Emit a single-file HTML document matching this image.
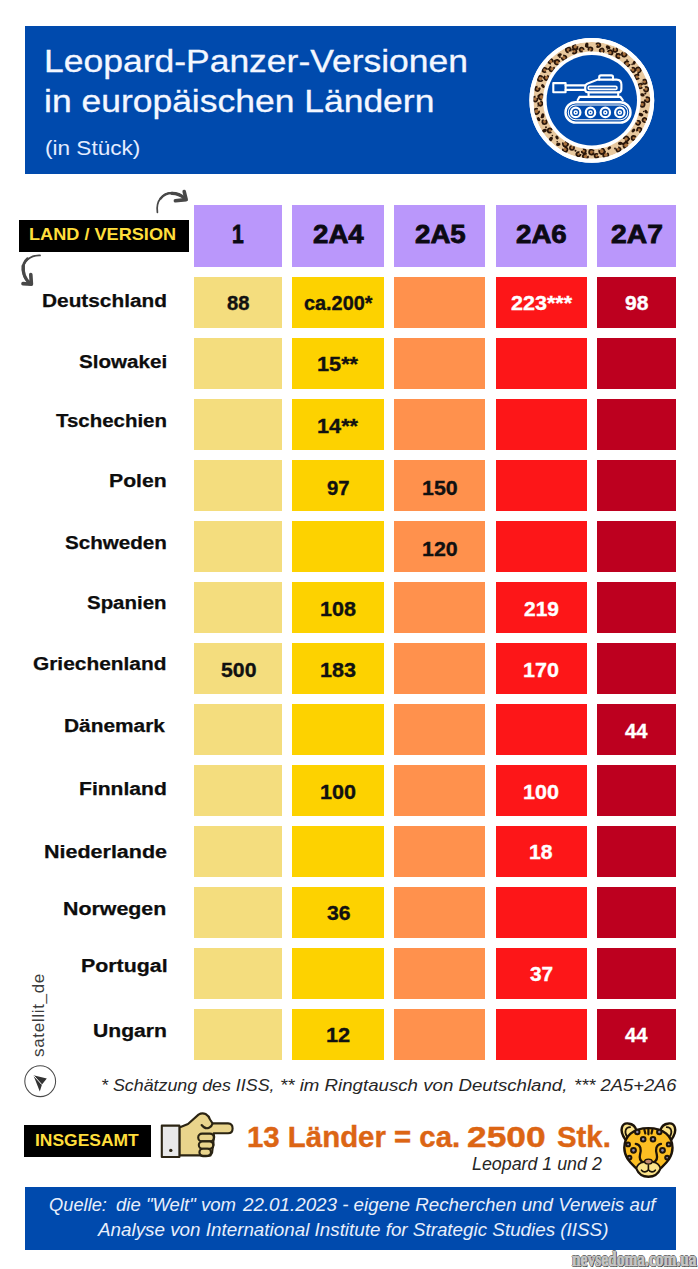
<!DOCTYPE html>
<html lang="de"><head><meta charset="utf-8"><title>Leopard-Panzer-Versionen in europäischen Ländern</title>
<style>
html,body{margin:0;padding:0;background:#fff;}
body{width:698px;height:1269px;position:relative;overflow:hidden;font-family:"Liberation Sans",sans-serif;}
.b{position:absolute;}
.t{position:absolute;line-height:1;white-space:nowrap;font-family:"Liberation Sans",sans-serif;}
.hd{-webkit-text-stroke:0.8px #0c0a14;}
.lb{-webkit-text-stroke:0.25px #0d0d0d;}
.v{-webkit-text-stroke:0.35px #111;}
.vw{-webkit-text-stroke:0.35px #fff;}
.ti{-webkit-text-stroke:0.3px #f4f7ff;}
.tot{-webkit-text-stroke:0.4px #dc6514;}
.wm{font-family:"Liberation Serif",serif;-webkit-text-stroke:0.7px #cbcbcb;text-shadow:1px 0 0 #555,-1px 0 0 #555,0 1px 0 #555,0 -1px 0 #555,1.2px 1.2px 0.5px #333;}
svg.ic{position:absolute;left:0;top:0;width:698px;height:1269px;pointer-events:none;}
</style></head><body>
<div class="b" style="left:25.00px;top:26.00px;width:651.00px;height:148.00px;background:#004aad;"></div>
<div class="t ti" id="t1" style="top:45.54px;font-size:31.5px;color:#f4f7ff;font-weight:400;left:43.75px;transform:scaleX(1.1261);transform-origin:0 50%;">Leopard-Panzer-Versionen</div>
<div class="t ti" id="t2" style="top:85.74px;font-size:31.5px;color:#f4f7ff;font-weight:400;left:43.75px;transform:scaleX(1.1257);transform-origin:0 50%;">in europäischen Ländern</div>
<div class="t " id="t3" style="top:138.37px;font-size:20px;color:#e4ecff;font-weight:400;left:44.87px;transform:scaleX(1.1292);transform-origin:0 50%;">(in Stück)</div>
<div class="b" style="left:19.30px;top:219.60px;width:169.40px;height:32.00px;background:#000;"></div>
<div class="t " id="t4" style="top:226.99px;font-size:16.9px;color:#ffde3b;font-weight:700;left:29.23px;transform:scaleX(1.0735);transform-origin:0 50%;">LAND / VERSION</div>
<div class="b" style="left:193.70px;top:205.00px;width:88.70px;height:61.60px;background:#ba97fb;"></div>
<div class="t hd" id="t5" style="top:222.00px;font-size:25.4px;color:#0c0a14;font-weight:700;left:231.82px;transform:scaleX(0.8308);transform-origin:0 50%;">1</div>
<div class="b" style="left:292.20px;top:205.00px;width:91.80px;height:61.60px;background:#ba97fb;"></div>
<div class="t hd" id="t6" style="top:222.00px;font-size:25.4px;color:#0c0a14;font-weight:700;left:312.80px;transform:scaleX(1.0892);transform-origin:0 50%;">2A4</div>
<div class="b" style="left:394.10px;top:205.00px;width:91.40px;height:61.60px;background:#ba97fb;"></div>
<div class="t hd" id="t7" style="top:222.00px;font-size:25.4px;color:#0c0a14;font-weight:700;left:414.50px;transform:scaleX(1.0892);transform-origin:0 50%;">2A5</div>
<div class="b" style="left:495.70px;top:205.00px;width:91.20px;height:61.60px;background:#ba97fb;"></div>
<div class="t hd" id="t8" style="top:222.00px;font-size:25.4px;color:#0c0a14;font-weight:700;left:516.00px;transform:scaleX(1.0892);transform-origin:0 50%;">2A6</div>
<div class="b" style="left:596.90px;top:205.00px;width:79.10px;height:61.60px;background:#ba97fb;"></div>
<div class="t hd" id="t9" style="top:222.00px;font-size:25.4px;color:#0c0a14;font-weight:700;left:611.15px;transform:scaleX(1.1131);transform-origin:0 50%;">2A7</div>
<div class="b" style="left:193.70px;top:277.10px;width:88.70px;height:50.60px;background:#f4dd7e;"></div>
<div class="b" style="left:292.20px;top:277.10px;width:91.80px;height:50.60px;background:#fdd200;"></div>
<div class="b" style="left:394.10px;top:277.10px;width:91.40px;height:50.60px;background:#ff914d;"></div>
<div class="b" style="left:495.70px;top:277.10px;width:91.20px;height:50.60px;background:#fd1618;"></div>
<div class="b" style="left:596.90px;top:277.10px;width:79.10px;height:50.60px;background:#bd001f;"></div>
<div class="b" style="left:193.70px;top:338.10px;width:88.70px;height:50.60px;background:#f4dd7e;"></div>
<div class="b" style="left:292.20px;top:338.10px;width:91.80px;height:50.60px;background:#fdd200;"></div>
<div class="b" style="left:394.10px;top:338.10px;width:91.40px;height:50.60px;background:#ff914d;"></div>
<div class="b" style="left:495.70px;top:338.10px;width:91.20px;height:50.60px;background:#fd1618;"></div>
<div class="b" style="left:596.90px;top:338.10px;width:79.10px;height:50.60px;background:#bd001f;"></div>
<div class="b" style="left:193.70px;top:399.10px;width:88.70px;height:50.60px;background:#f4dd7e;"></div>
<div class="b" style="left:292.20px;top:399.10px;width:91.80px;height:50.60px;background:#fdd200;"></div>
<div class="b" style="left:394.10px;top:399.10px;width:91.40px;height:50.60px;background:#ff914d;"></div>
<div class="b" style="left:495.70px;top:399.10px;width:91.20px;height:50.60px;background:#fd1618;"></div>
<div class="b" style="left:596.90px;top:399.10px;width:79.10px;height:50.60px;background:#bd001f;"></div>
<div class="b" style="left:193.70px;top:460.10px;width:88.70px;height:50.60px;background:#f4dd7e;"></div>
<div class="b" style="left:292.20px;top:460.10px;width:91.80px;height:50.60px;background:#fdd200;"></div>
<div class="b" style="left:394.10px;top:460.10px;width:91.40px;height:50.60px;background:#ff914d;"></div>
<div class="b" style="left:495.70px;top:460.10px;width:91.20px;height:50.60px;background:#fd1618;"></div>
<div class="b" style="left:596.90px;top:460.10px;width:79.10px;height:50.60px;background:#bd001f;"></div>
<div class="b" style="left:193.70px;top:521.10px;width:88.70px;height:50.60px;background:#f4dd7e;"></div>
<div class="b" style="left:292.20px;top:521.10px;width:91.80px;height:50.60px;background:#fdd200;"></div>
<div class="b" style="left:394.10px;top:521.10px;width:91.40px;height:50.60px;background:#ff914d;"></div>
<div class="b" style="left:495.70px;top:521.10px;width:91.20px;height:50.60px;background:#fd1618;"></div>
<div class="b" style="left:596.90px;top:521.10px;width:79.10px;height:50.60px;background:#bd001f;"></div>
<div class="b" style="left:193.70px;top:582.10px;width:88.70px;height:50.60px;background:#f4dd7e;"></div>
<div class="b" style="left:292.20px;top:582.10px;width:91.80px;height:50.60px;background:#fdd200;"></div>
<div class="b" style="left:394.10px;top:582.10px;width:91.40px;height:50.60px;background:#ff914d;"></div>
<div class="b" style="left:495.70px;top:582.10px;width:91.20px;height:50.60px;background:#fd1618;"></div>
<div class="b" style="left:596.90px;top:582.10px;width:79.10px;height:50.60px;background:#bd001f;"></div>
<div class="b" style="left:193.70px;top:643.10px;width:88.70px;height:50.60px;background:#f4dd7e;"></div>
<div class="b" style="left:292.20px;top:643.10px;width:91.80px;height:50.60px;background:#fdd200;"></div>
<div class="b" style="left:394.10px;top:643.10px;width:91.40px;height:50.60px;background:#ff914d;"></div>
<div class="b" style="left:495.70px;top:643.10px;width:91.20px;height:50.60px;background:#fd1618;"></div>
<div class="b" style="left:596.90px;top:643.10px;width:79.10px;height:50.60px;background:#bd001f;"></div>
<div class="b" style="left:193.70px;top:704.10px;width:88.70px;height:50.60px;background:#f4dd7e;"></div>
<div class="b" style="left:292.20px;top:704.10px;width:91.80px;height:50.60px;background:#fdd200;"></div>
<div class="b" style="left:394.10px;top:704.10px;width:91.40px;height:50.60px;background:#ff914d;"></div>
<div class="b" style="left:495.70px;top:704.10px;width:91.20px;height:50.60px;background:#fd1618;"></div>
<div class="b" style="left:596.90px;top:704.10px;width:79.10px;height:50.60px;background:#bd001f;"></div>
<div class="b" style="left:193.70px;top:765.10px;width:88.70px;height:50.60px;background:#f4dd7e;"></div>
<div class="b" style="left:292.20px;top:765.10px;width:91.80px;height:50.60px;background:#fdd200;"></div>
<div class="b" style="left:394.10px;top:765.10px;width:91.40px;height:50.60px;background:#ff914d;"></div>
<div class="b" style="left:495.70px;top:765.10px;width:91.20px;height:50.60px;background:#fd1618;"></div>
<div class="b" style="left:596.90px;top:765.10px;width:79.10px;height:50.60px;background:#bd001f;"></div>
<div class="b" style="left:193.70px;top:826.10px;width:88.70px;height:50.60px;background:#f4dd7e;"></div>
<div class="b" style="left:292.20px;top:826.10px;width:91.80px;height:50.60px;background:#fdd200;"></div>
<div class="b" style="left:394.10px;top:826.10px;width:91.40px;height:50.60px;background:#ff914d;"></div>
<div class="b" style="left:495.70px;top:826.10px;width:91.20px;height:50.60px;background:#fd1618;"></div>
<div class="b" style="left:596.90px;top:826.10px;width:79.10px;height:50.60px;background:#bd001f;"></div>
<div class="b" style="left:193.70px;top:887.10px;width:88.70px;height:50.60px;background:#f4dd7e;"></div>
<div class="b" style="left:292.20px;top:887.10px;width:91.80px;height:50.60px;background:#fdd200;"></div>
<div class="b" style="left:394.10px;top:887.10px;width:91.40px;height:50.60px;background:#ff914d;"></div>
<div class="b" style="left:495.70px;top:887.10px;width:91.20px;height:50.60px;background:#fd1618;"></div>
<div class="b" style="left:596.90px;top:887.10px;width:79.10px;height:50.60px;background:#bd001f;"></div>
<div class="b" style="left:193.70px;top:948.10px;width:88.70px;height:50.60px;background:#f4dd7e;"></div>
<div class="b" style="left:292.20px;top:948.10px;width:91.80px;height:50.60px;background:#fdd200;"></div>
<div class="b" style="left:394.10px;top:948.10px;width:91.40px;height:50.60px;background:#ff914d;"></div>
<div class="b" style="left:495.70px;top:948.10px;width:91.20px;height:50.60px;background:#fd1618;"></div>
<div class="b" style="left:596.90px;top:948.10px;width:79.10px;height:50.60px;background:#bd001f;"></div>
<div class="b" style="left:193.70px;top:1009.10px;width:88.70px;height:50.60px;background:#f4dd7e;"></div>
<div class="b" style="left:292.20px;top:1009.10px;width:91.80px;height:50.60px;background:#fdd200;"></div>
<div class="b" style="left:394.10px;top:1009.10px;width:91.40px;height:50.60px;background:#ff914d;"></div>
<div class="b" style="left:495.70px;top:1009.10px;width:91.20px;height:50.60px;background:#fd1618;"></div>
<div class="b" style="left:596.90px;top:1009.10px;width:79.10px;height:50.60px;background:#bd001f;"></div>
<div class="t lb" id="t10" style="top:292.40px;font-size:18.9px;color:#0d0d0d;font-weight:700;left:41.60px;transform:scaleX(1.1026);transform-origin:0 50%;">Deutschland</div>
<div class="t lb" id="t11" style="top:352.50px;font-size:18.9px;color:#0d0d0d;font-weight:700;left:79.10px;transform:scaleX(1.0917);transform-origin:0 50%;">Slowakei</div>
<div class="t lb" id="t12" style="top:411.80px;font-size:18.9px;color:#0d0d0d;font-weight:700;left:55.60px;transform:scaleX(1.0824);transform-origin:0 50%;">Tschechien</div>
<div class="t lb" id="t13" style="top:472.00px;font-size:18.9px;color:#0d0d0d;font-weight:700;left:108.88px;transform:scaleX(1.1224);transform-origin:0 50%;">Polen</div>
<div class="t lb" id="t14" style="top:533.60px;font-size:18.9px;color:#0d0d0d;font-weight:700;left:64.70px;transform:scaleX(1.0905);transform-origin:0 50%;">Schweden</div>
<div class="t lb" id="t15" style="top:593.90px;font-size:18.9px;color:#0d0d0d;font-weight:700;left:87.10px;transform:scaleX(1.0817);transform-origin:0 50%;">Spanien</div>
<div class="t lb" id="t16" style="top:654.70px;font-size:18.9px;color:#0d0d0d;font-weight:700;left:33.20px;transform:scaleX(1.1050);transform-origin:0 50%;">Griechenland</div>
<div class="t lb" id="t17" style="top:716.60px;font-size:18.9px;color:#0d0d0d;font-weight:700;left:64.49px;transform:scaleX(1.1051);transform-origin:0 50%;">Dänemark</div>
<div class="t lb" id="t18" style="top:779.90px;font-size:18.9px;color:#0d0d0d;font-weight:700;left:78.78px;transform:scaleX(1.1159);transform-origin:0 50%;">Finnland</div>
<div class="t lb" id="t19" style="top:842.50px;font-size:18.9px;color:#0d0d0d;font-weight:700;left:43.56px;transform:scaleX(1.1376);transform-origin:0 50%;">Niederlande</div>
<div class="t lb" id="t20" style="top:900.40px;font-size:18.9px;color:#0d0d0d;font-weight:700;left:63.37px;transform:scaleX(1.1306);transform-origin:0 50%;">Norwegen</div>
<div class="t lb" id="t21" style="top:957.20px;font-size:18.9px;color:#0d0d0d;font-weight:700;left:80.77px;transform:scaleX(1.1309);transform-origin:0 50%;">Portugal</div>
<div class="t lb" id="t22" style="top:1022.20px;font-size:18.9px;color:#0d0d0d;font-weight:700;left:92.58px;transform:scaleX(1.1196);transform-origin:0 50%;">Ungarn</div>
<div class="t v" id="t23" style="top:292.73px;font-size:20.4px;color:#111;font-weight:700;left:226.98px;transform:scaleX(0.9914);transform-origin:0 50%;">88</div>
<div class="t v" id="t24" style="top:292.73px;font-size:20.4px;color:#111;font-weight:700;left:303.84px;transform:scaleX(0.9737);transform-origin:0 50%;">ca.200*</div>
<div class="t vw" id="t25" style="top:293.03px;font-size:20.4px;color:#fff;font-weight:700;left:510.77px;transform:scaleX(1.0548);transform-origin:0 50%;">223***</div>
<div class="t vw" id="t26" style="top:293.03px;font-size:20.4px;color:#fff;font-weight:700;left:624.91px;transform:scaleX(1.0331);transform-origin:0 50%;">98</div>
<div class="t v" id="t27" style="top:353.83px;font-size:20.4px;color:#111;font-weight:700;left:317.01px;transform:scaleX(1.0648);transform-origin:0 50%;">15**</div>
<div class="t v" id="t28" style="top:416.13px;font-size:20.4px;color:#111;font-weight:700;left:317.01px;transform:scaleX(1.0648);transform-origin:0 50%;">14**</div>
<div class="t v" id="t29" style="top:477.63px;font-size:20.4px;color:#111;font-weight:700;left:326.97px;transform:scaleX(0.9961);transform-origin:0 50%;">97</div>
<div class="t v" id="t30" style="top:477.63px;font-size:20.4px;color:#111;font-weight:700;left:421.62px;transform:scaleX(1.0483);transform-origin:0 50%;">150</div>
<div class="t v" id="t31" style="top:538.63px;font-size:20.4px;color:#111;font-weight:700;left:421.62px;transform:scaleX(1.0483);transform-origin:0 50%;">120</div>
<div class="t v" id="t32" style="top:599.03px;font-size:20.4px;color:#111;font-weight:700;left:319.76px;transform:scaleX(1.0578);transform-origin:0 50%;">108</div>
<div class="t vw" id="t33" style="top:599.03px;font-size:20.4px;color:#fff;font-weight:700;left:524.02px;transform:scaleX(1.0264);transform-origin:0 50%;">219</div>
<div class="t v" id="t34" style="top:659.63px;font-size:20.4px;color:#111;font-weight:700;left:220.51px;transform:scaleX(1.0417);transform-origin:0 50%;">500</div>
<div class="t v" id="t35" style="top:659.63px;font-size:20.4px;color:#111;font-weight:700;left:319.76px;transform:scaleX(1.0578);transform-origin:0 50%;">183</div>
<div class="t vw" id="t36" style="top:659.63px;font-size:20.4px;color:#fff;font-weight:700;left:522.96px;transform:scaleX(1.0578);transform-origin:0 50%;">170</div>
<div class="t vw" id="t37" style="top:720.63px;font-size:20.4px;color:#fff;font-weight:700;left:624.91px;transform:scaleX(0.9889);transform-origin:0 50%;">44</div>
<div class="t v" id="t38" style="top:782.03px;font-size:20.4px;color:#111;font-weight:700;left:319.76px;transform:scaleX(1.0578);transform-origin:0 50%;">100</div>
<div class="t vw" id="t39" style="top:782.03px;font-size:20.4px;color:#fff;font-weight:700;left:522.96px;transform:scaleX(1.0578);transform-origin:0 50%;">100</div>
<div class="t vw" id="t40" style="top:842.43px;font-size:20.4px;color:#fff;font-weight:700;left:529.19px;transform:scaleX(1.0379);transform-origin:0 50%;">18</div>
<div class="t v" id="t41" style="top:902.63px;font-size:20.4px;color:#111;font-weight:700;left:326.51px;transform:scaleX(1.0378);transform-origin:0 50%;">36</div>
<div class="t vw" id="t42" style="top:963.63px;font-size:20.4px;color:#fff;font-weight:700;left:529.91px;transform:scaleX(1.0192);transform-origin:0 50%;">37</div>
<div class="t v" id="t43" style="top:1025.03px;font-size:20.4px;color:#111;font-weight:700;left:325.65px;transform:scaleX(1.0670);transform-origin:0 50%;">12</div>
<div class="t vw" id="t44" style="top:1025.03px;font-size:20.4px;color:#fff;font-weight:700;left:624.91px;transform:scaleX(0.9889);transform-origin:0 50%;">44</div>
<div class="t" id="sat" style="left:37.7px;top:1015.1px;font-size:17px;color:#3c3c3c;transform:translate(-50%,-50%) rotate(-90deg);letter-spacing:0.66px;">satellit_de</div>
<div class="t " id="t45" style="top:1077.16px;font-size:17.3px;color:#262626;font-weight:400;font-style:italic;left:100.97px;transform:scaleX(1.0320);transform-origin:0 50%;">* Schätzung des IISS,</div>
<div class="t " id="t46" style="top:1077.16px;font-size:17.3px;color:#262626;font-weight:400;font-style:italic;left:280.12px;transform:scaleX(1.0802);transform-origin:0 50%;">** im Ringtausch von Deutschland,</div>
<div class="t " id="t47" style="top:1077.16px;font-size:17.3px;color:#262626;font-weight:400;font-style:italic;left:574.44px;transform:scaleX(1.0620);transform-origin:0 50%;">*** 2A5+2A6</div>
<div class="b" style="left:24.20px;top:1125.20px;width:127.20px;height:31.40px;background:#000;"></div>
<div class="t " id="t48" style="top:1132.68px;font-size:16.8px;color:#ffde3b;font-weight:700;left:34.76px;transform:scaleX(1.0401);transform-origin:0 50%;">INSGESAMT</div>
<div class="t tot" id="t49" style="top:1123.42px;font-size:28.8px;color:#dc6514;font-weight:700;left:247.18px;transform:scaleX(1.0208);transform-origin:0 50%;">13 Länder = ca.</div>
<div class="t tot" id="t50" style="top:1123.42px;font-size:28.8px;color:#dc6514;font-weight:700;left:467.47px;transform:scaleX(1.2281);transform-origin:0 50%;">2500</div>
<div class="t tot" id="t51" style="top:1123.42px;font-size:28.8px;color:#dc6514;font-weight:700;left:557.40px;transform:scaleX(1.0191);transform-origin:0 50%;">Stk.</div>
<div class="t " id="t52" style="top:1154.96px;font-size:18px;color:#262626;font-weight:400;font-style:italic;left:472.40px;transform:scaleX(0.9900);transform-origin:0 50%;">Leopard 1 und 2</div>
<div class="b" style="left:25.00px;top:1186.50px;width:651.00px;height:63.00px;background:#004aad;"></div>
<div class="t " id="t53" style="top:1196.79px;font-size:17.5px;color:#e9effb;font-weight:400;font-style:italic;left:48.60px;transform:scaleX(1.0452);transform-origin:0 50%;">Quelle:</div>
<div class="t " id="t54" style="top:1196.79px;font-size:17.5px;color:#e9effb;font-weight:400;font-style:italic;left:116.30px;transform:scaleX(1.0589);transform-origin:0 50%;">die "Welt" vom</div>
<div class="t " id="t55" style="top:1196.79px;font-size:17.5px;color:#e9effb;font-weight:400;font-style:italic;left:242.67px;transform:scaleX(1.0726);transform-origin:0 50%;">22.01.2023 - eigene Recherchen und Verweis auf</div>
<div class="t " id="t56" style="top:1222.19px;font-size:17.5px;color:#e9effb;font-weight:400;font-style:italic;left:97.58px;transform:scaleX(1.0753);transform-origin:0 50%;">Analyse von International Institute for Strategic Studies (IISS)</div>
<div class="t wm" id="t57" style="top:1249.13px;font-size:20px;color:#c4c4c4;font-weight:700;left:572.00px;transform:scaleX(0.7734);transform-origin:0 50%;">nevsedoma.com.ua</div>
<svg class="ic" viewBox="0 0 698 1269">
<circle cx="591.8" cy="100.3" r="62.4" fill="#fff"/>
<circle cx="591.8" cy="100.3" r="58.4" fill="#e8c89e"/>
<circle cx="647.3" cy="99.6" r="1.96" fill="#a9713d"/>
<circle cx="647.3" cy="99.6" r="2.46" fill="none" stroke="#2a160a" stroke-width="1.7" stroke-dasharray="6.4 2.2" transform="rotate(26 647.3 99.6)"/>
<circle cx="642.3" cy="104.5" r="1.88" fill="#a9713d"/>
<circle cx="642.3" cy="104.5" r="2.36" fill="none" stroke="#2a160a" stroke-width="1.7" stroke-dasharray="6.1 2.1" transform="rotate(13 642.3 104.5)"/>
<circle cx="644.7" cy="100.9" r="0.87" fill="#2a160a"/>
<ellipse cx="646.1" cy="111.7" rx="2.05" ry="1.40" fill="#2a160a" transform="rotate(226 646.1 111.7)"/>
<ellipse cx="640.9" cy="114.6" rx="2.55" ry="1.74" fill="#2a160a" transform="rotate(17 640.9 114.6)"/>
<circle cx="643.6" cy="111.6" r="0.75" fill="#2a160a"/>
<circle cx="644.7" cy="120.0" r="1.70" fill="#a9713d"/>
<circle cx="644.7" cy="120.0" r="2.13" fill="none" stroke="#2a160a" stroke-width="1.7" stroke-dasharray="5.5 1.9" transform="rotate(209 644.7 120.0)"/>
<circle cx="638.0" cy="122.8" r="1.64" fill="#a9713d"/>
<circle cx="638.0" cy="122.8" r="2.04" fill="none" stroke="#2a160a" stroke-width="1.7" stroke-dasharray="5.3 1.8" transform="rotate(21 638.0 122.8)"/>
<circle cx="640.4" cy="122.6" r="0.83" fill="#2a160a"/>
<circle cx="639.2" cy="130.0" r="1.77" fill="#a9713d"/>
<circle cx="639.2" cy="130.0" r="2.21" fill="none" stroke="#2a160a" stroke-width="1.7" stroke-dasharray="5.7 2.0" transform="rotate(286 639.2 130.0)"/>
<ellipse cx="633.4" cy="130.5" rx="2.25" ry="1.54" fill="#2a160a" transform="rotate(315 633.4 130.5)"/>
<circle cx="637.2" cy="130.3" r="0.75" fill="#2a160a"/>
<circle cx="633.7" cy="138.0" r="1.69" fill="#a9713d"/>
<circle cx="633.7" cy="138.0" r="2.11" fill="none" stroke="#2a160a" stroke-width="1.7" stroke-dasharray="5.5 1.9" transform="rotate(176 633.7 138.0)"/>
<circle cx="626.2" cy="138.9" r="1.92" fill="#a9713d"/>
<circle cx="626.2" cy="138.9" r="2.40" fill="none" stroke="#2a160a" stroke-width="1.7" stroke-dasharray="6.2 2.2" transform="rotate(315 626.2 138.9)"/>
<circle cx="629.2" cy="138.9" r="0.93" fill="#2a160a"/>
<circle cx="626.0" cy="145.3" r="2.13" fill="#a9713d"/>
<circle cx="626.0" cy="145.3" r="2.66" fill="none" stroke="#2a160a" stroke-width="1.7" stroke-dasharray="6.9 2.4" transform="rotate(171 626.0 145.3)"/>
<ellipse cx="620.3" cy="143.3" rx="2.33" ry="1.59" fill="#2a160a" transform="rotate(358 620.3 143.3)"/>
<circle cx="622.7" cy="143.8" r="0.97" fill="#2a160a"/>
<circle cx="618.4" cy="149.5" r="1.69" fill="#a9713d"/>
<circle cx="618.4" cy="149.5" r="2.12" fill="none" stroke="#2a160a" stroke-width="1.7" stroke-dasharray="5.5 1.9" transform="rotate(42 618.4 149.5)"/>
<ellipse cx="609.3" cy="148.0" rx="2.06" ry="1.41" fill="#2a160a" transform="rotate(141 609.3 148.0)"/>
<circle cx="615.0" cy="148.5" r="0.92" fill="#2a160a"/>
<circle cx="605.8" cy="155.0" r="2.08" fill="#a9713d"/>
<circle cx="605.8" cy="155.0" r="2.60" fill="none" stroke="#2a160a" stroke-width="1.7" stroke-dasharray="6.8 2.3" transform="rotate(100 605.8 155.0)"/>
<circle cx="601.8" cy="151.2" r="2.14" fill="#a9713d"/>
<circle cx="601.8" cy="151.2" r="2.67" fill="none" stroke="#2a160a" stroke-width="1.7" stroke-dasharray="6.9 2.4" transform="rotate(54 601.8 151.2)"/>
<circle cx="605.1" cy="151.8" r="0.89" fill="#2a160a"/>
<circle cx="596.6" cy="155.8" r="1.60" fill="#a9713d"/>
<circle cx="596.6" cy="155.8" r="2.00" fill="none" stroke="#2a160a" stroke-width="1.7" stroke-dasharray="5.2 1.8" transform="rotate(151 596.6 155.8)"/>
<circle cx="591.6" cy="152.2" r="1.99" fill="#a9713d"/>
<circle cx="591.6" cy="152.2" r="2.48" fill="none" stroke="#2a160a" stroke-width="1.7" stroke-dasharray="6.5 2.2" transform="rotate(186 591.6 152.2)"/>
<circle cx="593.5" cy="153.2" r="1.06" fill="#2a160a"/>
<circle cx="585.5" cy="156.5" r="2.05" fill="#a9713d"/>
<circle cx="585.5" cy="156.5" r="2.56" fill="none" stroke="#2a160a" stroke-width="1.7" stroke-dasharray="6.7 2.3" transform="rotate(141 585.5 156.5)"/>
<circle cx="583.7" cy="151.2" r="1.63" fill="#a9713d"/>
<circle cx="583.7" cy="151.2" r="2.04" fill="none" stroke="#2a160a" stroke-width="1.7" stroke-dasharray="5.3 1.8" transform="rotate(24 583.7 151.2)"/>
<circle cx="585.9" cy="153.3" r="0.72" fill="#2a160a"/>
<circle cx="578.5" cy="154.2" r="1.66" fill="#a9713d"/>
<circle cx="578.5" cy="154.2" r="2.07" fill="none" stroke="#2a160a" stroke-width="1.7" stroke-dasharray="5.4 1.9" transform="rotate(131 578.5 154.2)"/>
<circle cx="572.0" cy="147.8" r="1.68" fill="#a9713d"/>
<circle cx="572.0" cy="147.8" r="2.10" fill="none" stroke="#2a160a" stroke-width="1.7" stroke-dasharray="5.5 1.9" transform="rotate(91 572.0 147.8)"/>
<circle cx="575.5" cy="150.7" r="1.04" fill="#2a160a"/>
<circle cx="565.1" cy="149.5" r="1.87" fill="#a9713d"/>
<circle cx="565.1" cy="149.5" r="2.34" fill="none" stroke="#2a160a" stroke-width="1.7" stroke-dasharray="6.1 2.1" transform="rotate(31 565.1 149.5)"/>
<circle cx="565.4" cy="143.9" r="2.06" fill="#a9713d"/>
<circle cx="565.4" cy="143.9" r="2.58" fill="none" stroke="#2a160a" stroke-width="1.7" stroke-dasharray="6.7 2.3" transform="rotate(58 565.4 143.9)"/>
<circle cx="564.0" cy="146.2" r="0.76" fill="#2a160a"/>
<ellipse cx="558.3" cy="144.4" rx="2.25" ry="1.54" fill="#2a160a" transform="rotate(352 558.3 144.4)"/>
<ellipse cx="557.0" cy="137.5" rx="2.14" ry="1.47" fill="#2a160a" transform="rotate(60 557.0 137.5)"/>
<circle cx="557.2" cy="141.8" r="0.83" fill="#2a160a"/>
<ellipse cx="550.8" cy="139.1" rx="2.55" ry="1.75" fill="#2a160a" transform="rotate(307 550.8 139.1)"/>
<circle cx="549.9" cy="130.5" r="1.73" fill="#a9713d"/>
<circle cx="549.9" cy="130.5" r="2.16" fill="none" stroke="#2a160a" stroke-width="1.7" stroke-dasharray="5.6 1.9" transform="rotate(186 549.9 130.5)"/>
<circle cx="552.4" cy="135.6" r="0.81" fill="#2a160a"/>
<ellipse cx="544.5" cy="130.7" rx="2.54" ry="1.74" fill="#2a160a" transform="rotate(161 544.5 130.7)"/>
<circle cx="544.5" cy="121.8" r="1.80" fill="#a9713d"/>
<circle cx="544.5" cy="121.8" r="2.26" fill="none" stroke="#2a160a" stroke-width="1.7" stroke-dasharray="5.9 2.0" transform="rotate(79 544.5 121.8)"/>
<circle cx="546.0" cy="127.3" r="0.95" fill="#2a160a"/>
<ellipse cx="538.6" cy="119.2" rx="2.22" ry="1.52" fill="#2a160a" transform="rotate(235 538.6 119.2)"/>
<ellipse cx="542.7" cy="115.8" rx="2.51" ry="1.71" fill="#2a160a" transform="rotate(282 542.7 115.8)"/>
<circle cx="541.5" cy="117.3" r="1.02" fill="#2a160a"/>
<circle cx="536.5" cy="111.3" r="2.14" fill="#a9713d"/>
<circle cx="536.5" cy="111.3" r="2.68" fill="none" stroke="#2a160a" stroke-width="1.7" stroke-dasharray="7.0 2.4" transform="rotate(143 536.5 111.3)"/>
<circle cx="540.3" cy="103.5" r="1.70" fill="#a9713d"/>
<circle cx="540.3" cy="103.5" r="2.12" fill="none" stroke="#2a160a" stroke-width="1.7" stroke-dasharray="5.5 1.9" transform="rotate(46 540.3 103.5)"/>
<circle cx="538.0" cy="106.0" r="0.76" fill="#2a160a"/>
<circle cx="535.1" cy="99.0" r="1.97" fill="#a9713d"/>
<circle cx="535.1" cy="99.0" r="2.46" fill="none" stroke="#2a160a" stroke-width="1.7" stroke-dasharray="6.4 2.2" transform="rotate(126 535.1 99.0)"/>
<circle cx="541.3" cy="96.9" r="2.14" fill="#a9713d"/>
<circle cx="541.3" cy="96.9" r="2.68" fill="none" stroke="#2a160a" stroke-width="1.7" stroke-dasharray="7.0 2.4" transform="rotate(234 541.3 96.9)"/>
<circle cx="538.5" cy="96.0" r="1.05" fill="#2a160a"/>
<circle cx="537.4" cy="88.8" r="1.74" fill="#a9713d"/>
<circle cx="537.4" cy="88.8" r="2.18" fill="none" stroke="#2a160a" stroke-width="1.7" stroke-dasharray="5.7 2.0" transform="rotate(105 537.4 88.8)"/>
<ellipse cx="542.9" cy="86.1" rx="2.18" ry="1.49" fill="#2a160a" transform="rotate(47 542.9 86.1)"/>
<circle cx="539.5" cy="88.7" r="0.93" fill="#2a160a"/>
<circle cx="540.3" cy="78.6" r="2.11" fill="#a9713d"/>
<circle cx="540.3" cy="78.6" r="2.64" fill="none" stroke="#2a160a" stroke-width="1.7" stroke-dasharray="6.9 2.4" transform="rotate(181 540.3 78.6)"/>
<circle cx="546.5" cy="77.7" r="1.85" fill="#a9713d"/>
<circle cx="546.5" cy="77.7" r="2.31" fill="none" stroke="#2a160a" stroke-width="1.7" stroke-dasharray="6.0 2.1" transform="rotate(66 546.5 77.7)"/>
<circle cx="543.8" cy="77.7" r="0.89" fill="#2a160a"/>
<circle cx="544.6" cy="70.0" r="1.78" fill="#a9713d"/>
<circle cx="544.6" cy="70.0" r="2.23" fill="none" stroke="#2a160a" stroke-width="1.7" stroke-dasharray="5.8 2.0" transform="rotate(187 544.6 70.0)"/>
<circle cx="551.9" cy="68.9" r="1.91" fill="#a9713d"/>
<circle cx="551.9" cy="68.9" r="2.39" fill="none" stroke="#2a160a" stroke-width="1.7" stroke-dasharray="6.2 2.2" transform="rotate(89 551.9 68.9)"/>
<circle cx="548.2" cy="69.0" r="0.92" fill="#2a160a"/>
<circle cx="550.7" cy="61.4" r="1.85" fill="#a9713d"/>
<circle cx="550.7" cy="61.4" r="2.31" fill="none" stroke="#2a160a" stroke-width="1.7" stroke-dasharray="6.0 2.1" transform="rotate(221 550.7 61.4)"/>
<circle cx="557.1" cy="62.2" r="1.85" fill="#a9713d"/>
<circle cx="557.1" cy="62.2" r="2.32" fill="none" stroke="#2a160a" stroke-width="1.7" stroke-dasharray="6.0 2.1" transform="rotate(192 557.1 62.2)"/>
<circle cx="555.0" cy="60.9" r="1.05" fill="#2a160a"/>
<ellipse cx="559.6" cy="54.9" rx="2.27" ry="1.55" fill="#2a160a" transform="rotate(340 559.6 54.9)"/>
<circle cx="564.0" cy="57.8" r="1.85" fill="#a9713d"/>
<circle cx="564.0" cy="57.8" r="2.31" fill="none" stroke="#2a160a" stroke-width="1.7" stroke-dasharray="6.0 2.1" transform="rotate(26 564.0 57.8)"/>
<circle cx="559.9" cy="56.9" r="1.01" fill="#2a160a"/>
<circle cx="568.4" cy="49.9" r="2.00" fill="#a9713d"/>
<circle cx="568.4" cy="49.9" r="2.50" fill="none" stroke="#2a160a" stroke-width="1.7" stroke-dasharray="6.5 2.3" transform="rotate(238 568.4 49.9)"/>
<circle cx="574.3" cy="51.4" r="1.72" fill="#a9713d"/>
<circle cx="574.3" cy="51.4" r="2.15" fill="none" stroke="#2a160a" stroke-width="1.7" stroke-dasharray="5.6 1.9" transform="rotate(343 574.3 51.4)"/>
<circle cx="569.8" cy="50.6" r="1.03" fill="#2a160a"/>
<circle cx="575.2" cy="46.9" r="1.89" fill="#a9713d"/>
<circle cx="575.2" cy="46.9" r="2.36" fill="none" stroke="#2a160a" stroke-width="1.7" stroke-dasharray="6.1 2.1" transform="rotate(122 575.2 46.9)"/>
<circle cx="581.7" cy="49.7" r="1.61" fill="#a9713d"/>
<circle cx="581.7" cy="49.7" r="2.01" fill="none" stroke="#2a160a" stroke-width="1.7" stroke-dasharray="5.2 1.8" transform="rotate(199 581.7 49.7)"/>
<circle cx="577.6" cy="48.9" r="0.95" fill="#2a160a"/>
<ellipse cx="586.7" cy="45.1" rx="2.56" ry="1.75" fill="#2a160a" transform="rotate(284 586.7 45.1)"/>
<circle cx="590.4" cy="49.3" r="1.62" fill="#a9713d"/>
<circle cx="590.4" cy="49.3" r="2.03" fill="none" stroke="#2a160a" stroke-width="1.7" stroke-dasharray="5.3 1.8" transform="rotate(280 590.4 49.3)"/>
<circle cx="587.7" cy="47.0" r="1.06" fill="#2a160a"/>
<circle cx="598.2" cy="45.0" r="1.68" fill="#a9713d"/>
<circle cx="598.2" cy="45.0" r="2.10" fill="none" stroke="#2a160a" stroke-width="1.7" stroke-dasharray="5.5 1.9" transform="rotate(331 598.2 45.0)"/>
<circle cx="601.8" cy="50.6" r="1.63" fill="#a9713d"/>
<circle cx="601.8" cy="50.6" r="2.04" fill="none" stroke="#2a160a" stroke-width="1.7" stroke-dasharray="5.3 1.8" transform="rotate(248 601.8 50.6)"/>
<circle cx="597.5" cy="46.3" r="0.95" fill="#2a160a"/>
<ellipse cx="608.1" cy="47.3" rx="2.47" ry="1.69" fill="#2a160a" transform="rotate(24 608.1 47.3)"/>
<circle cx="610.1" cy="52.6" r="1.91" fill="#a9713d"/>
<circle cx="610.1" cy="52.6" r="2.39" fill="none" stroke="#2a160a" stroke-width="1.7" stroke-dasharray="6.2 2.1" transform="rotate(334 610.1 52.6)"/>
<circle cx="607.3" cy="49.0" r="0.80" fill="#2a160a"/>
<circle cx="615.2" cy="49.9" r="1.63" fill="#a9713d"/>
<circle cx="615.2" cy="49.9" r="2.04" fill="none" stroke="#2a160a" stroke-width="1.7" stroke-dasharray="5.3 1.8" transform="rotate(73 615.2 49.9)"/>
<circle cx="618.4" cy="56.0" r="1.76" fill="#a9713d"/>
<circle cx="618.4" cy="56.0" r="2.20" fill="none" stroke="#2a160a" stroke-width="1.7" stroke-dasharray="5.7 2.0" transform="rotate(180 618.4 56.0)"/>
<circle cx="616.9" cy="53.8" r="0.80" fill="#2a160a"/>
<circle cx="624.2" cy="54.2" r="1.91" fill="#a9713d"/>
<circle cx="624.2" cy="54.2" r="2.39" fill="none" stroke="#2a160a" stroke-width="1.7" stroke-dasharray="6.2 2.1" transform="rotate(68 624.2 54.2)"/>
<circle cx="627.1" cy="63.9" r="2.06" fill="#a9713d"/>
<circle cx="627.1" cy="63.9" r="2.57" fill="none" stroke="#2a160a" stroke-width="1.7" stroke-dasharray="6.7 2.3" transform="rotate(156 627.1 63.9)"/>
<circle cx="627.0" cy="60.1" r="0.90" fill="#2a160a"/>
<ellipse cx="634.2" cy="62.7" rx="2.13" ry="1.46" fill="#2a160a" transform="rotate(300 634.2 62.7)"/>
<circle cx="632.9" cy="69.9" r="1.79" fill="#a9713d"/>
<circle cx="632.9" cy="69.9" r="2.24" fill="none" stroke="#2a160a" stroke-width="1.7" stroke-dasharray="5.8 2.0" transform="rotate(20 632.9 69.9)"/>
<circle cx="632.1" cy="64.4" r="0.80" fill="#2a160a"/>
<circle cx="638.2" cy="70.0" r="2.07" fill="#a9713d"/>
<circle cx="638.2" cy="70.0" r="2.59" fill="none" stroke="#2a160a" stroke-width="1.7" stroke-dasharray="6.7 2.3" transform="rotate(313 638.2 70.0)"/>
<circle cx="637.0" cy="76.9" r="1.76" fill="#a9713d"/>
<circle cx="637.0" cy="76.9" r="2.21" fill="none" stroke="#2a160a" stroke-width="1.7" stroke-dasharray="5.7 2.0" transform="rotate(165 637.0 76.9)"/>
<circle cx="638.2" cy="74.2" r="1.08" fill="#2a160a"/>
<circle cx="644.7" cy="81.8" r="1.74" fill="#a9713d"/>
<circle cx="644.7" cy="81.8" r="2.17" fill="none" stroke="#2a160a" stroke-width="1.7" stroke-dasharray="5.6 2.0" transform="rotate(348 644.7 81.8)"/>
<circle cx="640.3" cy="86.0" r="1.81" fill="#a9713d"/>
<circle cx="640.3" cy="86.0" r="2.27" fill="none" stroke="#2a160a" stroke-width="1.7" stroke-dasharray="5.9 2.0" transform="rotate(171 640.3 86.0)"/>
<circle cx="642.2" cy="82.1" r="0.70" fill="#2a160a"/>
<circle cx="646.1" cy="89.2" r="1.82" fill="#a9713d"/>
<circle cx="646.1" cy="89.2" r="2.28" fill="none" stroke="#2a160a" stroke-width="1.7" stroke-dasharray="5.9 2.1" transform="rotate(15 646.1 89.2)"/>
<ellipse cx="642.4" cy="94.9" rx="2.29" ry="1.57" fill="#2a160a" transform="rotate(191 642.4 94.9)"/>
<circle cx="645.3" cy="93.5" r="1.05" fill="#2a160a"/>
<circle cx="591.8" cy="100.3" r="53.6" fill="none" stroke="#fff" stroke-width="0"/>
<circle cx="591.8" cy="100.3" r="60.4" fill="none" stroke="#fff" stroke-width="4"/>
<circle cx="591.8" cy="100.3" r="48.8" fill="#fff"/>
<circle cx="591.8" cy="100.3" r="45.2" fill="#004aad"/>
<g fill="none" stroke="#fff" stroke-width="2.1" stroke-linejoin="round" stroke-linecap="round">
<rect x="553.3" y="83.1" width="12.3" height="9.1"/>
<path d="M565.6 85.4H585.2M565.6 89.9H585.2"/>
<path d="M599.2 79.6V77.2Q599.2 75.4 601 75.4H611.2Q613 75.4 613 77.2V79.6"/>
<path d="M588 92.4Q585.2 92.4 585.2 89.6V87.2Q585.2 84.6 587.8 83.6L597.6 79.6H616.6Q621.4 79.6 621.4 84.6V88.4Q621.4 92.4 618.4 92.4Z"/>
<rect x="588.2" y="86.4" width="28.8" height="3" rx="1.5" stroke-width="1.6"/>
<path d="M588.6 92.4V96.9H618.2V92.4"/>
<path d="M577.6 100.2L579.4 96.9H620.4L622.8 100.2"/>
<rect x="565.5" y="102.2" width="65" height="20.4" rx="10.2" stroke-width="2.4"/>
<rect x="568.3" y="105" width="59.4" height="14.8" rx="7.4" stroke-width="1.1"/>
</g>
<circle cx="575.7" cy="112.4" r="4.7" fill="#004aad" stroke="#fff" stroke-width="2.2"/><circle cx="575.7" cy="112.4" r="1.5" fill="none" stroke="#fff" stroke-width="1.5"/>
<circle cx="590.5" cy="112.4" r="4.7" fill="#004aad" stroke="#fff" stroke-width="2.2"/><circle cx="590.5" cy="112.4" r="1.5" fill="none" stroke="#fff" stroke-width="1.5"/>
<circle cx="605.3" cy="112.4" r="4.7" fill="#004aad" stroke="#fff" stroke-width="2.2"/><circle cx="605.3" cy="112.4" r="1.5" fill="none" stroke="#fff" stroke-width="1.5"/>
<circle cx="619.8" cy="112.4" r="4.7" fill="#004aad" stroke="#fff" stroke-width="2.2"/><circle cx="619.8" cy="112.4" r="1.5" fill="none" stroke="#fff" stroke-width="1.5"/>
<g fill="none" stroke="#484848" stroke-linecap="round" stroke-linejoin="round">
<path d="M157.4 212.4C155.6 200.5 163 192.8 172 192.8C178 192.8 182.6 195.4 185.6 198.6" stroke-width="1.7"/>
<path d="M160.6 198.6C163.4 194.8 167.6 193 172 193" stroke-width="2.4"/>
<path d="M184.2 191.6L186.2 199.6L175.4 200.8" stroke-width="3.6"/>
<path d="M172 193.4C177 193.4 181.5 195.6 184.6 198.4" stroke-width="3.2"/>
<path d="M40 255.4C30 255 22.6 262 22.9 270C23.1 277 27 281.6 30.8 284" stroke-width="1.8"/>
<path d="M27.6 258.6C24.4 261.4 22.8 265.4 22.9 270" stroke-width="2.6"/>
<path d="M30.8 274.6L31.4 284.2L23 283.6" stroke-width="3.6"/>
<path d="M23.2 266C22.6 274 26.4 280.4 30 283.4" stroke-width="3.4"/>
</g>
<circle cx="40.2" cy="1081.2" r="15.4" fill="#fff" stroke="#4a4a4a" stroke-width="1.05"/>
<path d="M33.4 1075.2L46.8 1078.6L42 1084.4L39.8 1091.4Z" fill="#333"/>
<path d="M33.4 1075.2L41.8 1084.6" stroke="#fff" stroke-width="1" fill="none"/>
<g stroke="#2b2413" stroke-width="2.1" stroke-linejoin="round" stroke-linecap="round">
<path d="M179.4 1127.5L188 1124L198.5 1114.6Q202 1112.4 205.6 1114Q209 1116 210 1119.5L212.6 1123.4H228Q232.6 1123.6 232.6 1128.4Q232.6 1133.2 228 1133.2H213.6Q215 1137.5 213.4 1141.4Q214.2 1145 212.6 1148.6Q212.8 1152.5 210.4 1155.6Q206 1157 200 1155.4H179.4Z" fill="#e9d48c"/>
<path d="M201.6 1125Q205 1129.4 209 1127.8Q212 1126 212.6 1123.4" fill="none"/>
<rect x="198.2" y="1133.6" width="15.6" height="7.8" rx="3.9" fill="#e9d48c"/>
<rect x="198.8" y="1141.4" width="14.4" height="7.4" rx="3.7" fill="#e9d48c"/>
<rect x="199.4" y="1148.8" width="11.6" height="7" rx="3.5" fill="#e9d48c"/>
<rect x="161.8" y="1125.6" width="17.6" height="31.4" fill="#e8e8e8"/>
</g>
<circle cx="170.8" cy="1150.4" r="1.7" fill="#2b2413"/>
<g stroke="#1d1409" stroke-width="2.4" stroke-linejoin="round" stroke-linecap="round">
<path d="M625.5 1139.8C618.0 1129.5 622.6 1122.6 628.3 1123.5C632.9 1124.0 635.8 1127.2 636.6 1131.2Z" fill="#fbe38a"/>
<path d="M671.3 1139.8C678.8 1129.5 674.2 1122.6 668.5 1123.5C663.9 1124.0 661.0 1127.2 660.2 1131.2Z" fill="#fbe38a"/>
<path d="M648.4 1128.1C663.9 1128.1 672.5 1136.4 672.5 1147.8C672.5 1158.1 665.0 1163.9 660.4 1168.5C658.1 1174.2 653.6 1176.7 648.4 1176.7C643.2 1176.7 638.7 1174.2 636.4 1168.5C631.8 1163.9 624.3 1158.1 624.3 1147.8C624.3 1136.4 632.9 1128.1 648.4 1128.1Z" fill="#fcbe22"/>
</g>
<path d="M627.2 1136.9C623.8 1131.8 625.5 1127.2 630.1 1127.2M669.6 1136.9C673.0 1131.8 671.3 1127.2 666.7 1127.2" fill="none" stroke="#1d1409" stroke-width="1.7" stroke-linecap="round"/>
<path d="M648.4 1162.1C643.2 1160.4 636.9 1163.9 636.6 1168.5C638.7 1174.2 643.2 1176.2 648.4 1176.2C653.6 1176.2 658.1 1174.2 660.2 1168.5C659.9 1163.9 653.6 1160.4 648.4 1162.1Z" fill="#fbe38a" stroke="#1d1409" stroke-width="1.6"/>
<path d="M648.4 1165.0L648.4 1169.6M648.4 1169.6C646.7 1172.5 643.2 1172.5 641.5 1170.2M648.4 1169.6C650.1 1172.5 653.6 1172.5 655.3 1170.2" fill="none" stroke="#1d1409" stroke-width="1.6" stroke-linecap="round"/>
<ellipse cx="648.4" cy="1161.6" rx="3.8" ry="2.5" fill="#c48a6c" stroke="#1d1409" stroke-width="1.4"/>
<path d="M635.8 1143.8C640.9 1144.4 641.5 1150.1 640.0 1154.7C639.2 1158.1 640.0 1160.4 642.7 1162.1M661.0 1143.8C655.8 1144.4 655.3 1150.1 656.8 1154.7C657.6 1158.1 656.8 1160.4 654.1 1162.1" fill="none" stroke="#1d1409" stroke-width="2.3" stroke-linecap="round"/>
<path d="M644.4 1129.7L645.3 1133.5M648.4 1129.3L648.4 1134.3M652.4 1129.7L651.5 1133.5" stroke="#1d1409" stroke-width="2.2" stroke-linecap="round"/>
<circle cx="643.2" cy="1139.2" r="2.3" fill="#8d88a8" stroke="#1d1409" stroke-width="2"/>
<circle cx="653.0" cy="1139.2" r="2.3" fill="#8d88a8" stroke="#1d1409" stroke-width="2"/>
<circle cx="633.5" cy="1150.3" r="2.4" fill="#8d88a8" stroke="#1d1409" stroke-width="2"/>
<circle cx="662.5" cy="1150.3" r="2.4" fill="#8d88a8" stroke="#1d1409" stroke-width="2"/>
<circle cx="628.1" cy="1144.4" r="1.9" fill="#8d88a8" stroke="#1d1409" stroke-width="2"/>
<circle cx="668.7" cy="1144.4" r="1.9" fill="#8d88a8" stroke="#1d1409" stroke-width="2"/>
<circle cx="629.5" cy="1157.6" r="1.9" fill="#8d88a8" stroke="#1d1409" stroke-width="2"/>
<circle cx="667.1" cy="1157.6" r="1.9" fill="#8d88a8" stroke="#1d1409" stroke-width="2"/>
<circle cx="637.3" cy="1132.0" r="2.2" fill="#8d88a8" stroke="#1d1409" stroke-width="2"/>
<circle cx="659.3" cy="1132.0" r="2.2" fill="#8d88a8" stroke="#1d1409" stroke-width="2"/>
<circle cx="623.8" cy="1136.6" r="0.9" fill="#1d1409"/>
</svg>
</body></html>
